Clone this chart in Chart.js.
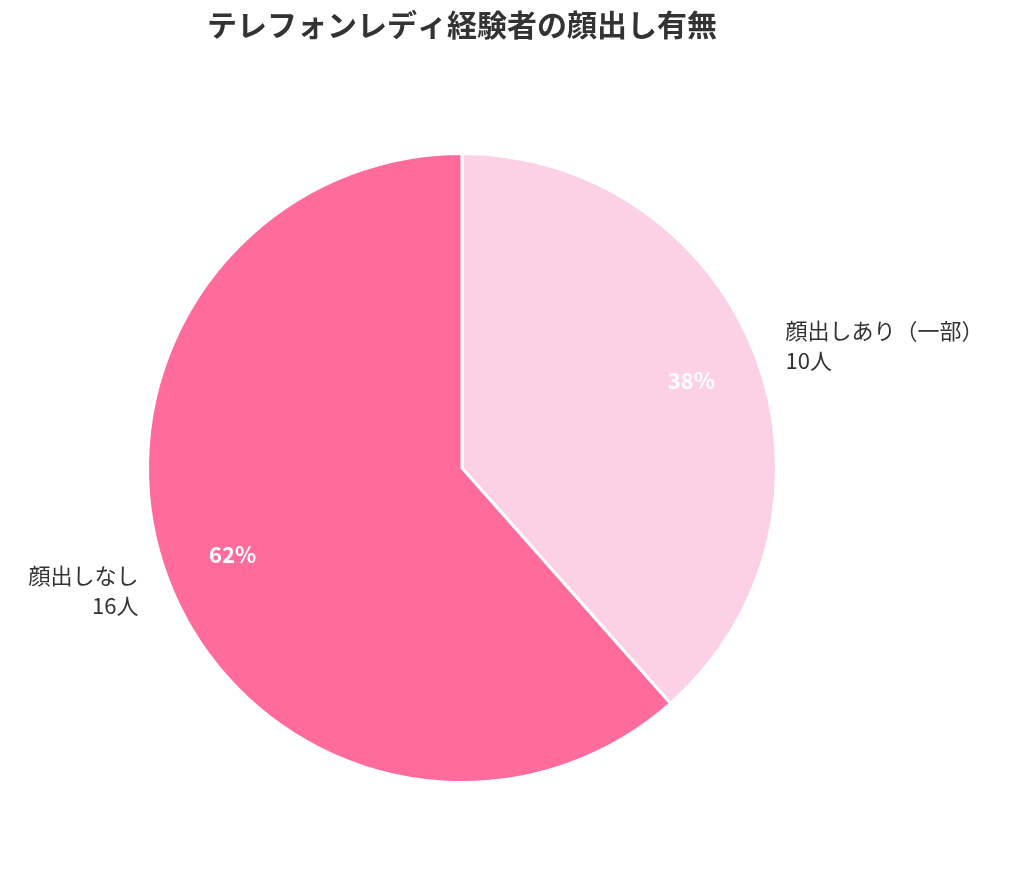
<!DOCTYPE html>
<html><head><meta charset="utf-8">
<script src="https://cdn.jsdelivr.net/npm/chart.js@4"></script>
<style>html,body{margin:0;padding:0;background:#fff}#w{width:1024px;height:878px}</style>
</head><body><div id="w"><canvas id="c"></canvas></div>
<script>
const titleText = "テレフォンレディ経験者の顔出し有無";
const categories = ["顔出しあり（一部）", "顔出しなし"];
const counts = [10, 16];
const countLabels = ["10人", "16人"];
const colors = ["#FDD1E5", "#FF6B9B"];
const FONT = '"Noto Sans CJK JP", "Noto Sans", sans-serif';

const labelPlugin = {
  id: 'labels',
  afterDraw(chart) {
    const ctx = chart.ctx;
    const total = counts.reduce((a, b) => a + b, 0);
    ctx.save();
    ctx.fillStyle = '#333';
    ctx.font = 'bold 30px ' + FONT;
    ctx.textAlign = 'center';
    ctx.textBaseline = 'middle';
    ctx.fillText(titleText, 462, 25);
    const meta = chart.getDatasetMeta(0);
    meta.data.forEach((arc, i) => {
      const mid = (arc.startAngle + arc.endAngle) / 2;
      const r = arc.outerRadius;
      const cx = arc.x, cy = arc.y;
      ctx.font = 'bold 22px ' + FONT;
      ctx.fillStyle = '#fff';
      ctx.textAlign = 'center';
      ctx.fillText(Math.round(counts[i] / total * 100) + '%', cx + Math.cos(mid) * r * 0.78, cy + Math.sin(mid) * r * 0.78);
      const lx = cx + Math.cos(mid) * r * 1.1, ly = cy + Math.sin(mid) * r * 1.1;
      ctx.font = '22px ' + FONT;
      ctx.fillStyle = '#333';
      ctx.textAlign = Math.cos(mid) >= 0 ? 'left' : 'right';
      ctx.fillText(categories[i], lx, ly - 15);
      ctx.fillText(countLabels[i], lx, ly + 15);
    });
    ctx.restore();
  }
};

new Chart(document.getElementById('c'), {
  type: 'pie',
  data: { labels: categories, datasets: [{ data: counts, backgroundColor: colors, borderColor: '#fff', borderWidth: 3 }] },
  options: {
    responsive: true, maintainAspectRatio: false, animation: false,
    layout: { padding: { top: 152, bottom: 94, left: 146, right: 246 } },
    plugins: { legend: { display: false }, tooltip: { enabled: false }, title: { display: false } }
  },
  plugins: [labelPlugin]
});
</script></body></html>
